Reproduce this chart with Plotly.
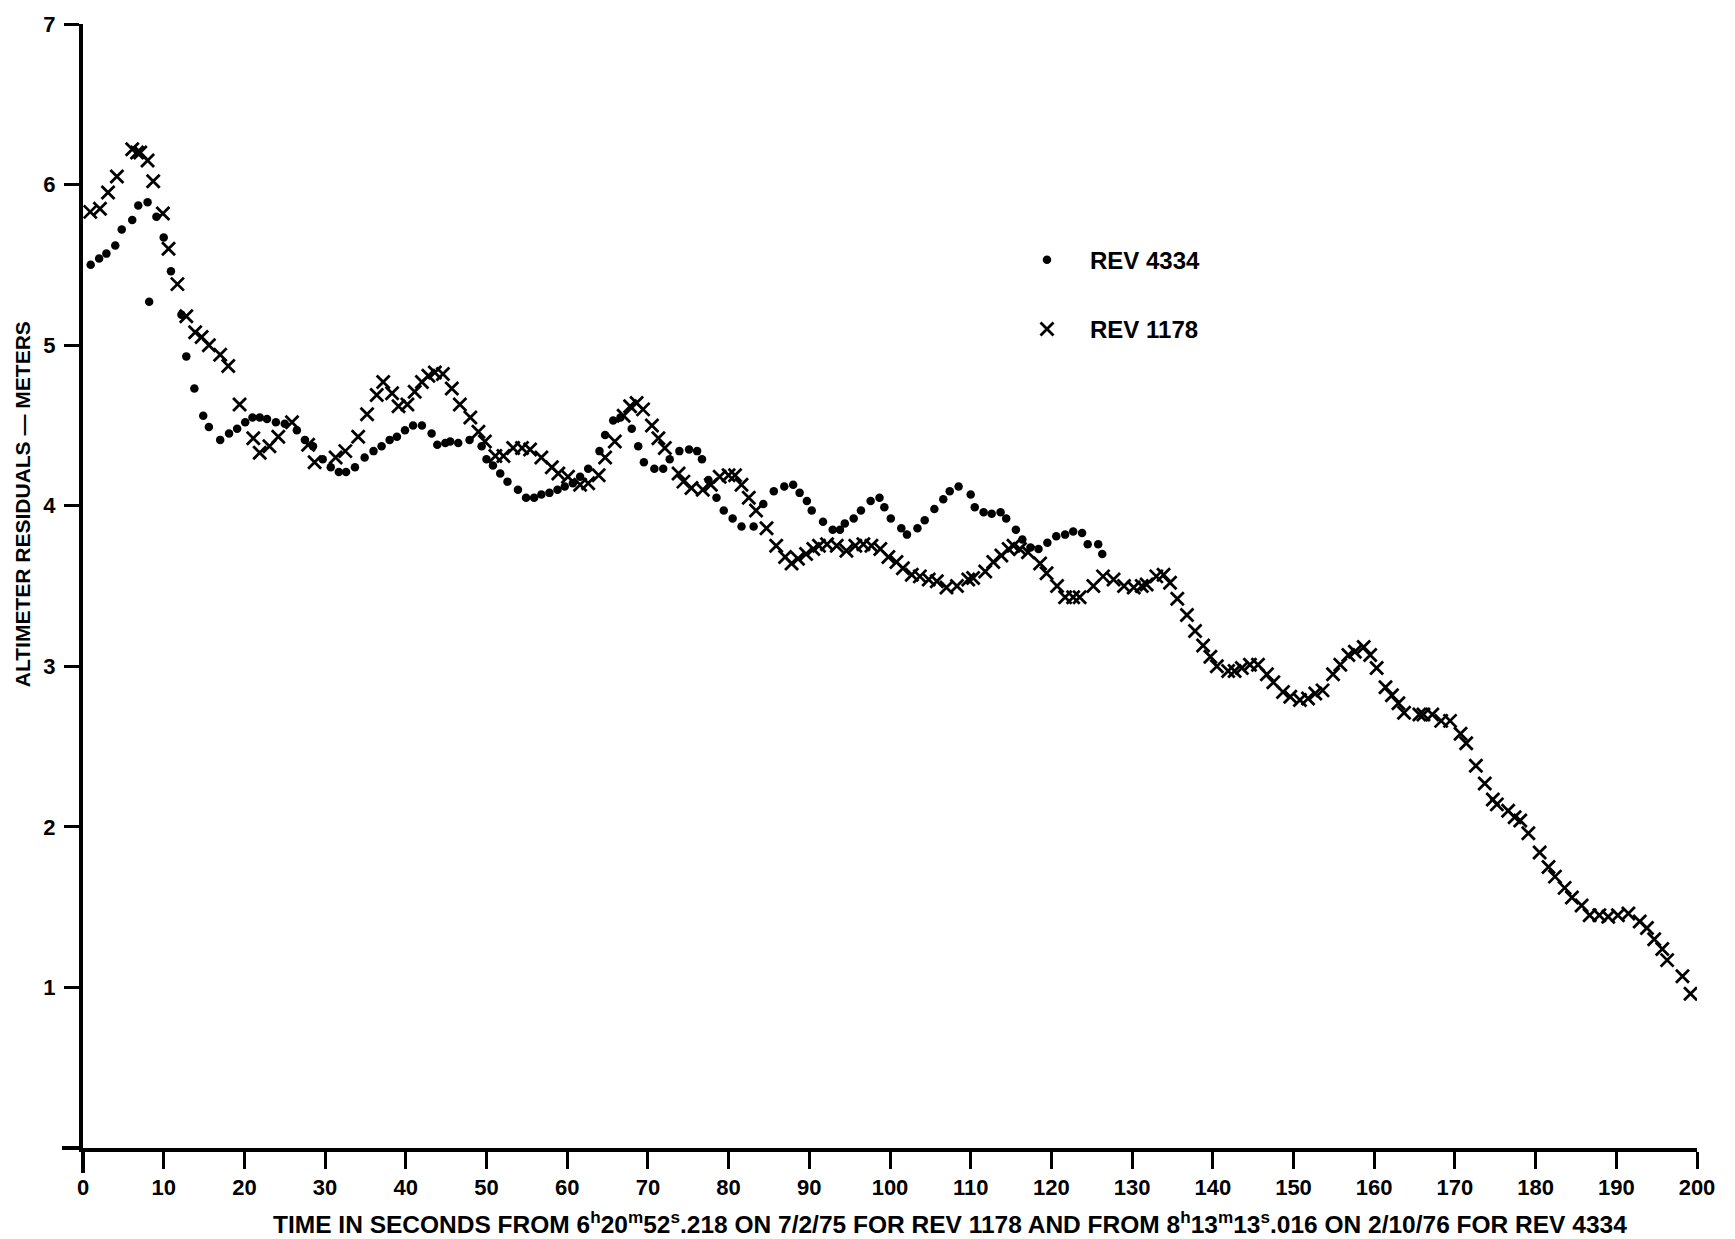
import plotly.graph_objects as go

# REV 1178 (X markers)
t_1178 = [0.9, 2.1, 3.1, 4.2, 6.1, 6.7, 7.1, 8.0, 8.7, 9.9, 10.6, 11.7, 12.8, 13.9, 14.7,
          15.6, 17.0, 18.0, 19.4, 21.1, 21.9, 23.1, 24.2, 25.9, 27.9, 28.7, 31.3, 32.5,
          34.1, 35.2, 36.4, 37.2, 38.3, 39.1, 40.2, 41.1, 42.0, 42.8, 43.6, 44.6, 45.7,
          46.7, 48.0, 49.0, 49.8, 51.1, 52.1, 53.3, 54.4, 55.4, 56.8, 58.1, 58.9, 60.1,
          61.6, 62.6, 63.9, 64.7, 65.9, 67.0, 67.8, 68.6, 69.4, 70.5, 71.3, 72.1, 73.8,
          74.4, 75.4, 76.8, 77.8, 78.9, 80.0, 80.8, 81.6, 82.5, 83.4, 84.7, 85.9, 87.0,
          87.8, 88.6, 89.6, 90.5, 91.2, 92.2, 93.4, 94.6, 95.7, 96.7, 97.7, 98.8, 99.8,
          100.8, 101.6, 102.7, 103.7, 104.8, 105.8, 107.0, 108.3, 109.7, 110.3, 111.8,
          112.8, 113.8, 114.7, 115.3, 116.1, 117.1, 118.6, 119.4, 120.7, 121.7, 122.7,
          123.5, 125.2, 126.4, 127.7, 129.0, 130.2, 131.2, 131.8, 133.0, 133.9, 134.7,
          135.6, 136.8, 137.8, 138.8, 139.7, 140.5, 141.9, 142.7, 143.6, 144.6, 145.6,
          146.7, 147.5, 148.7, 149.6, 150.8, 151.8, 152.7, 153.6, 154.9, 155.8, 156.8,
          157.6, 158.7, 159.5, 160.3, 161.4, 162.2, 163.0, 163.7, 165.6, 166.1, 167.2,
          168.3, 169.4, 170.7, 171.4, 172.6, 173.7, 174.7, 175.2, 176.6, 177.4, 178.1,
          179.1, 180.5, 181.6, 182.4, 183.6, 184.5, 185.7, 186.7, 187.9, 189.0, 190.2,
          191.5, 192.9, 193.8, 194.7, 195.7, 196.3, 198.2, 199.2]
r_1178 = [5.83, 5.85, 5.95, 6.05, 6.22, 6.20, 6.20, 6.15, 6.02, 5.82, 5.60, 5.38, 5.18, 5.08, 5.05,
          5.00, 4.94, 4.87, 4.63, 4.42, 4.33, 4.37, 4.43, 4.52, 4.38, 4.27, 4.30, 4.34,
          4.43, 4.57, 4.69, 4.77, 4.70, 4.62, 4.63, 4.71, 4.77, 4.81, 4.83, 4.82, 4.73,
          4.63, 4.55, 4.46, 4.40, 4.31, 4.31, 4.36, 4.36, 4.35, 4.30, 4.24, 4.20, 4.18,
          4.13, 4.14, 4.19, 4.30, 4.40, 4.56, 4.62, 4.64, 4.60, 4.50, 4.42, 4.36, 4.20,
          4.15, 4.11, 4.10, 4.13, 4.18, 4.19, 4.19, 4.13, 4.05, 3.97, 3.86, 3.75, 3.68,
          3.64, 3.67, 3.70, 3.73, 3.75, 3.76, 3.75, 3.72, 3.75, 3.76, 3.75, 3.73, 3.68,
          3.65, 3.61, 3.57, 3.56, 3.54, 3.53, 3.49, 3.50, 3.54, 3.55, 3.59,
          3.65, 3.69, 3.73, 3.75, 3.73, 3.71, 3.64, 3.58, 3.50, 3.43, 3.43,
          3.43, 3.50, 3.56, 3.54, 3.50, 3.49, 3.50, 3.51, 3.56, 3.57, 3.52,
          3.42, 3.32, 3.22, 3.13, 3.06, 3.00, 2.97, 2.97, 2.99, 3.01, 3.01,
          2.95, 2.90, 2.84, 2.81, 2.79, 2.80, 2.83, 2.85, 2.95, 3.01, 3.07,
          3.09, 3.12, 3.07, 2.99, 2.87, 2.82, 2.77, 2.71, 2.70, 2.70, 2.70,
          2.66, 2.66, 2.58, 2.52, 2.38, 2.27, 2.17, 2.14, 2.10, 2.06, 2.04,
          1.96, 1.84, 1.75, 1.69, 1.62, 1.56, 1.51, 1.45, 1.45, 1.44, 1.45,
          1.46, 1.41, 1.37, 1.30, 1.24, 1.17, 1.07, 0.96]

# REV 4334 (dots)
t_4334 = [0.95, 2.0, 2.9, 4.0, 4.8, 6.1, 6.85, 8.0, 8.2, 9.1, 10.0, 10.9, 12.2, 12.8, 13.8,
          14.9, 15.6, 17.0, 18.1, 19.1, 20.1, 21.0, 21.9, 22.8, 23.9, 25.0, 26.5, 27.5,
          28.5, 29.7, 30.7, 31.7, 32.6, 33.7, 34.9, 36.0, 37.0, 38.0, 38.9, 39.9, 40.9,
          42.0, 43.2, 43.9, 44.9, 45.5, 46.5, 47.9, 49.4, 50.0, 50.8, 51.7, 52.6, 53.9,
          54.9, 55.9, 56.8, 57.8, 58.8, 59.7, 60.7, 61.6, 62.6, 64.0, 64.7, 65.7, 66.6,
          68.0, 68.8, 69.5, 70.8, 71.9, 72.7, 73.9, 75.1, 76.1, 76.7, 77.5, 78.5, 79.4,
          80.5, 81.6, 83.1, 84.3, 85.6, 86.9, 88.0, 88.8, 89.7, 90.3, 91.7, 92.9, 93.8,
          94.4, 95.5, 96.4, 97.6, 98.7, 99.3, 100.1, 101.4, 102.1, 103.4, 104.3, 105.5,
          106.6, 107.4, 108.5, 110.0, 110.5, 111.6, 112.6, 113.7, 114.4, 115.6, 116.4,
          117.4, 118.4, 119.5, 120.6, 121.7, 122.7, 123.8, 124.5, 125.8, 126.3]
r_4334 = [5.50, 5.54, 5.57, 5.62, 5.72, 5.78, 5.87, 5.89, 5.27, 5.80, 5.67, 5.46, 5.19, 4.93, 4.73,
          4.56, 4.49, 4.41, 4.45, 4.48, 4.52, 4.55, 4.55, 4.54, 4.52, 4.51, 4.47, 4.41,
          4.37, 4.29, 4.24, 4.21, 4.21, 4.24, 4.30, 4.34, 4.37, 4.41, 4.43, 4.47, 4.50,
          4.50, 4.45, 4.38, 4.39, 4.40, 4.39, 4.41, 4.37, 4.29, 4.25, 4.20, 4.15, 4.10,
          4.05, 4.05, 4.07, 4.08, 4.10, 4.12, 4.14, 4.18, 4.23, 4.34, 4.44, 4.53, 4.55,
          4.48, 4.37, 4.27, 4.23, 4.23, 4.29, 4.34, 4.35, 4.34, 4.29, 4.16, 4.05, 3.97,
          3.92, 3.87, 3.87, 4.01, 4.09, 4.12, 4.13, 4.08, 4.03, 3.97, 3.90, 3.85, 3.85,
          3.89, 3.92, 3.97, 4.03, 4.05, 3.99, 3.92, 3.86, 3.82, 3.86, 3.91, 3.98,
          4.04, 4.09, 4.12, 4.07, 3.99, 3.96, 3.95, 3.96, 3.92, 3.85, 3.79,
          3.74, 3.73, 3.77, 3.81, 3.82, 3.84, 3.83, 3.76, 3.76, 3.70]

x_ticks = list(range(0, 201, 10))
y_ticks = [1, 2, 3, 4, 5, 6, 7]

x_title = ("TIME IN SECONDS FROM 6<sup>h</sup>20<sup>m</sup>52<sup>s</sup>.218 ON 7/2/75 FOR REV 1178 "
           "AND FROM 8<sup>h</sup>13<sup>m</sup>13<sup>s</sup>.016 ON 2/10/76 FOR REV 4334")
y_title = "ALTIMETER RESIDUALS \u2014 METERS"

FONT = "Liberation Sans, Arial, sans-serif"

fig = go.Figure()
fig.add_trace(go.Scatter(
    x=t_4334, y=r_4334, mode="markers", name="REV 4334", legendgroup="a",
    marker=dict(symbol="circle", size=8.5, color="black"),
))
fig.add_trace(go.Scatter(
    x=t_1178, y=r_1178, mode="markers", name="REV 1178", legendgroup="b",
    marker=dict(symbol="x-thin", size=13, color="black", line=dict(width=2.8, color="black")),
))

L, R, T, B = 83, 38, 22, 91
W, H = 1735, 1239
pw, ph = W - L - R, H - T - B

fig.update_layout(
    width=W, height=H,
    margin=dict(l=L, r=R, t=T, b=B, pad=0),
    paper_bgcolor="white", plot_bgcolor="white",
    font=dict(family=FONT, size=20, color="black", weight="bold"),
    showlegend=True,
    legend=dict(
        x=(1004 - L) / pw, y=(H - B - 236) / ph, xanchor="left", yanchor="top",
        font=dict(family=FONT, size=24, color="black", weight="bold"),
        itemwidth=76, tracegroupgap=35, traceorder="grouped",
        bgcolor="rgba(0,0,0,0)", borderwidth=0,
    ),
    xaxis=dict(
        range=[0, 200], tickvals=x_ticks, ticktext=[str(v) for v in x_ticks],
        showline=True, linecolor="black", linewidth=4, mirror=False,
        ticks="outside", ticklen=17, tickwidth=3, tickcolor="black",
        showgrid=False, zeroline=False, ticklabelstandoff=0,
        tickfont=dict(family=FONT, size=22, color="black", weight="bold"),
    ),
    yaxis=dict(
        range=[0, 7], tickvals=y_ticks, ticktext=[str(v) for v in y_ticks],
        showline=True, linecolor="black", linewidth=4, mirror=False,
        ticks="outside", ticklen=15, tickwidth=3, tickcolor="black",
        showgrid=False, zeroline=False, ticklabelstandoff=4,
        tickfont=dict(family=FONT, size=22, color="black", weight="bold"),
    ),
    shapes=[
        dict(type="line", xref="paper", yref="paper", x0=-21 / pw, x1=0, y0=0, y1=0,
             line=dict(color="black", width=4)),
        dict(type="line", xref="paper", yref="paper", x0=0, x1=0, y0=-25 / ph, y1=0,
             line=dict(color="black", width=4)),
    ],
    annotations=[
        dict(text=x_title, xref="paper", yref="paper", x=(950 - L) / pw,
             y=(H - B - 1223) / ph, xanchor="center", yanchor="middle", showarrow=False,
             font=dict(family=FONT, size=24.5, color="black", weight="bold")),
        dict(text=y_title, xref="paper", yref="paper", x=(22 - L) / pw,
             y=(H - B - 503) / ph, xanchor="center", yanchor="middle", showarrow=False,
             textangle=-90,
             font=dict(family=FONT, size=21, color="black", weight="bold")),
    ],
)

fig.write_html("out.html")
